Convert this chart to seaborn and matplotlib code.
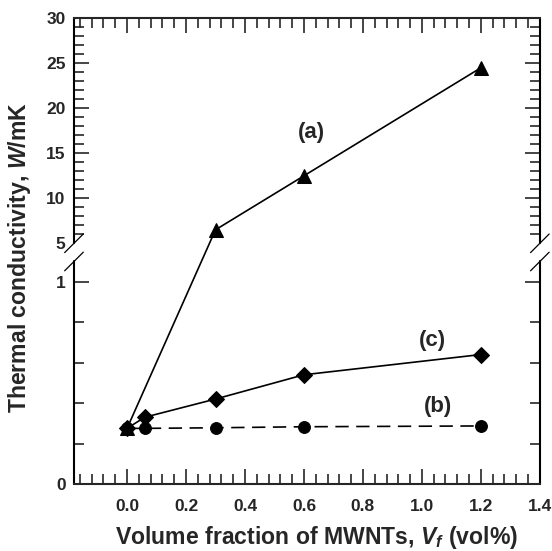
# Thermal conductivity vs MWNT volume fraction (broken y axis)
import numpy as np
import matplotlib
matplotlib.use("Agg")
import matplotlib.pyplot as plt
import seaborn as sns

sns.set_style("ticks")
plt.rcParams["font.family"] = ["Liberation Sans", "DejaVu Sans"]
plt.rcParams["font.weight"] = "bold"
plt.rcParams["mathtext.fontset"] = "custom"
plt.rcParams["mathtext.rm"] = "Liberation Sans:bold"
plt.rcParams["mathtext.it"] = "Liberation Sans:italic:bold"
plt.rcParams["mathtext.bf"] = "Liberation Sans:bold"

# --- data ---
vf_a = [0.0, 0.3, 0.6, 1.2]
k_a = [0.275, 6.5, 12.5, 24.5]
vf_b = [0.0, 0.06, 0.3, 0.6, 1.2]
k_b = [0.275, 0.275, 0.278, 0.283, 0.287]
vf_c = [0.0, 0.06, 0.3, 0.6, 1.2]
k_c = [0.275, 0.33, 0.42, 0.54, 0.64]

x_major = [0.0, 0.2, 0.4, 0.6, 0.8, 1.0, 1.2, 1.4]
y_major = [0, 1, 5, 10, 15, 20, 25, 30]
y_minor = [0.2, 0.4, 0.6, 0.8] + [v for v in range(6, 30) if v % 5 != 0]

# piecewise linear y scale: 0..1.1 stretched, gap, 5..30 compressed
brk_val = [0.0, 1.1, 5.0, 30.0]
brk_pos = [0.0, 222.5, 240.7, 465.7]


def fwd(y):
    return np.interp(y, brk_val, brk_pos)


def inv(t):
    return np.interp(t, brk_pos, brk_val)


fig, ax = plt.subplots(figsize=(5.52, 5.51), dpi=100)
fig.subplots_adjust(left=0.134, right=0.978, bottom=0.1216, top=0.9668)

# (b) dashed with circles
sns.lineplot(x=vf_b, y=k_b, marker="o", markersize=8.5, color="black",
             markeredgecolor="black", linewidth=1.2, ax=ax)
ax.lines[-1].set_dashes((8, 4.5))
# (a) solid with triangles
sns.lineplot(x=vf_a, y=k_a, marker="^", markersize=10, color="black",
             markeredgecolor="black", linewidth=1.2, ax=ax)
# (c) solid with diamonds
sns.lineplot(x=vf_c, y=k_c, marker="D", markersize=8, color="black",
             markeredgecolor="black", linewidth=1.2, ax=ax)

ax.set_yscale("function", functions=(fwd, inv))
ax.set_ylim(0, 30)
ax.set_xlim(-0.18, 1.4)

ax.set_xticks(x_major)
ax.set_xticklabels([f"{v:.1f}" for v in x_major])
ax.set_xticks(np.round(np.arange(-4, 35) * 0.04, 2), minor=True)
ax.set_yticks(y_major)
ax.set_yticklabels([str(v) for v in y_major])
ax.set_yticks(y_minor, minor=True)

ax.tick_params(which="both", direction="in", top=True, right=True, width=1.2)
ax.tick_params(which="major", length=10.5, labelsize=12.5)
ax.tick_params(which="minor", length=7)
ax.tick_params(axis="x", which="major", pad=11)
ax.tick_params(axis="y", which="major", pad=6)

# no tick line at the "5" label (break sits there)
t5 = ax.yaxis.get_major_ticks()[2]
t5.tick1line.set_visible(False)
t5.tick2line.set_visible(False)

# spines with break marks
for s in ["top", "bottom"]:
    ax.spines[s].set_linewidth(1.5)
ax.spines["left"].set_visible(False)
ax.spines["right"].set_visible(False)
yb_lo = fwd(1.1) / fwd(30)
yb_hi = fwd(5.0) / fwd(30)
d = 0.02
for xs in [0, 1]:
    ax.plot([xs, xs], [0, yb_lo], transform=ax.transAxes, color="black",
            lw=1.5, clip_on=False)
    ax.plot([xs, xs], [yb_hi, 1], transform=ax.transAxes, color="black",
            lw=1.5, clip_on=False)
    for yb in [yb_lo, yb_hi]:
        ax.plot([xs - d, xs + d], [yb - d, yb + d], transform=ax.transAxes,
                color="black", lw=0.9, clip_on=False)

# curve labels
ax.text(0.625, 17.3, "(a)", fontsize=16, fontweight="bold", ha="center", va="center")
ax.text(1.036, 0.71, "(c)", fontsize=16, fontweight="bold", ha="center", va="center")
ax.text(1.056, 0.382, "(b)", fontsize=16, fontweight="bold", ha="center", va="center")

ax.set_xlabel(r"Volume fraction of MWNTs, $V_f$ (vol%)", fontsize=16.6, fontweight="bold")
ax.set_ylabel(r"Thermal conductivity, $W$/mK", fontsize=16.6, fontweight="bold")
ax.xaxis.set_label_coords(0.52, -0.085)
ax.yaxis.set_label_coords(-0.088, 0.486)

plt.savefig("out.png", dpi=100)
